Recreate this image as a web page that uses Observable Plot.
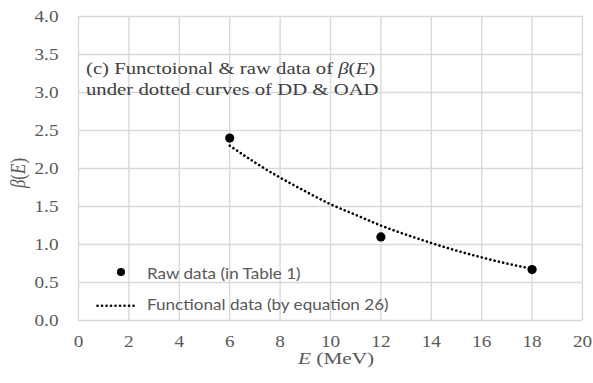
<!DOCTYPE html>
<html>
<head>
<meta charset="utf-8">
<script src="https://cdn.jsdelivr.net/npm/d3@7"></script>
<script src="https://cdn.jsdelivr.net/npm/@observablehq/plot@0.6"></script>
<style>
  html, body { margin: 0; padding: 0; background: #fff; }
  #chart { position: relative; width: 593px; height: 383px; overflow: hidden; }
  #chart svg text { font-family: "Liberation Serif", serif; fill: #595959; }
  .wide { position: absolute; white-space: nowrap; transform-origin: 0 0; }
  .note { left: 86px; top: 57.6px; font-family: "Liberation Serif", serif; font-size: 17px; line-height: 21px; color: #404040; transform: scaleX(1.22); }
  .leg { font-family: Lato, "Open Sans", sans-serif; font-size: 15px; line-height: 18px; color: #595959; transform: scaleX(1.14); }
  .dot { position: absolute; width: 8.5px; height: 8px; border-radius: 50%; background: #000; }
  .ylab { position: absolute; left: 18px; top: 173px; font-family: "Liberation Serif", serif; font-size: 17px; line-height: 17px; color: #595959; white-space: nowrap; transform: translate(-50%, -50%) scaleX(1.25) rotate(-90deg); }
  .xlab { left: 298px; top: 350px; font-family: "Liberation Serif", serif; font-size: 17px; line-height: 17px; color: #595959; transform: scaleX(1.25); }
</style>
</head>
<body>
<div id="chart"></div>
<script>
// Raw measurements (Table 1)
const rawE = [6, 12, 18];
const rawBeta = [2.40, 1.10, 0.67];

// Functional curve values (equation 26) sampled along E
const fitE = [6, 7, 8, 9, 10, 11, 12, 13, 14, 15, 16, 17, 18];
const fitBeta = [2.30, 2.08, 1.88, 1.70, 1.53, 1.39, 1.25, 1.13, 1.02, 0.92, 0.83, 0.75, 0.68];

// Axis ticks
const xTicks = [0, 2, 4, 6, 8, 10, 12, 14, 16, 18, 20];
const yTicks = [0, 0.5, 1.0, 1.5, 2.0, 2.5, 3.0, 3.5, 4.0];

const raw = rawE.map((e, i) => ({E: e, beta: rawBeta[i]}));
const fit = fitE.map((e, i) => ({E: e, beta: fitBeta[i]}));

const serif = "Liberation Serif, serif";

const plot = Plot.plot({
  width: 593,
  height: 383,
  marginLeft: 78,
  marginRight: 11,
  marginTop: 16,
  marginBottom: 63,
  style: {fontFamily: serif, fontSize: "16px", color: "#595959", background: "#fff"},
  x: {domain: [0, 20], label: null},
  y: {domain: [0, 4], label: null},
  marks: [
    Plot.gridX(xTicks, {stroke: "#d9d9d9", strokeOpacity: 1, strokeWidth: 1.4}),
    Plot.gridY(yTicks, {stroke: "#d9d9d9", strokeOpacity: 1, strokeWidth: 1.4}),
    Plot.axisX({ticks: xTicks, tickFormat: d => d.toString(), tickSize: 0, tickPadding: 15, label: null, fontSize: 16, fontFamily: serif}),
    Plot.axisY({ticks: yTicks, tickFormat: d => d.toFixed(1), tickSize: 0, tickPadding: 20, label: null, fontSize: 16, fontFamily: serif}),
    // dotted curve: round caps on near-zero dashes give a row of dots
    Plot.line(fit, {x: "E", y: "beta", curve: "natural", stroke: "#000", strokeWidth: 2.6, strokeLinecap: "round", strokeDasharray: "0.1 4.3"}),
    Plot.dot(raw, {x: "E", y: "beta", r: 4.6, fill: "#000", stroke: "none"})
  ]
});

// Widen tick labels horizontally around their anchor point
plot.querySelectorAll("text").forEach(t => {
  const x = +(t.getAttribute("x") || 0);
  const tr = t.getAttribute("transform") || "";
  t.setAttribute("transform", `${tr} translate(${x},0) scale(1.2,1) translate(${-x},0)`);
});

const chart = document.getElementById("chart");
chart.appendChild(plot);

chart.insertAdjacentHTML("beforeend", `
  <div class="wide note">(c) Functoional &amp; raw data of <i>β</i>(<i>E</i>)<br>under dotted curves of DD &amp; OAD</div>
  <span class="dot" style="left:116.5px;top:268.3px;"></span>
  <div class="wide leg" style="left:146.5px;top:264.2px;">Raw data (in Table 1)</div>
  <svg style="position:absolute;left:96px;top:300px;" width="44" height="12">
    <line x1="1.5" y1="5.7" x2="42" y2="5.7" stroke="#000" stroke-width="2.6" stroke-linecap="round" stroke-dasharray="0.1 4.4"/>
  </svg>
  <div class="wide leg" style="left:146.5px;top:295.2px;">Functional data (by equation 26)</div>
  <div class="ylab"><i>β</i>(<i>E</i>)</div>
  <div class="wide xlab"><i>E</i> (MeV)</div>
`);
</script>
</body>
</html>
